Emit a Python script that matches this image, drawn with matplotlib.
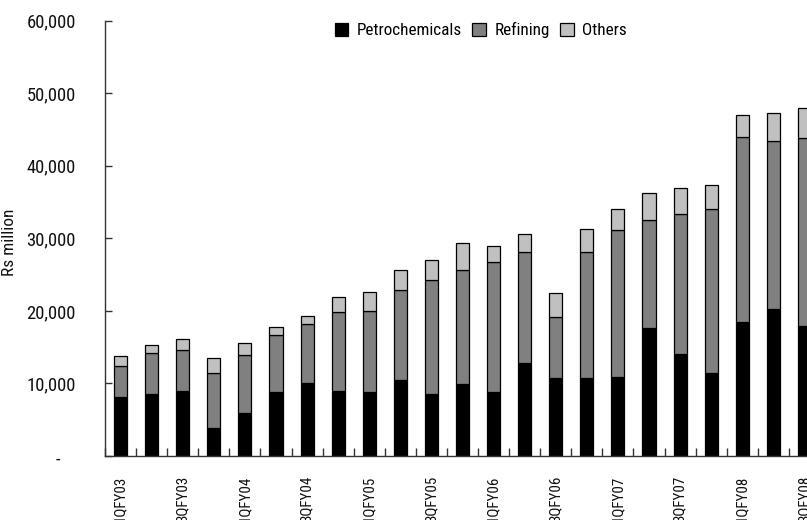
import matplotlib
matplotlib.use("Agg")
import matplotlib.pyplot as plt
import matplotlib.transforms as mtransforms
from matplotlib.ticker import FixedLocator, FuncFormatter
import numpy as np

plt.rcParams['font.family'] = ['Roboto Condensed', 'DejaVu Sans']

quarters = [
    "1QFY03", "2QFY03", "3QFY03", "4QFY03",
    "1QFY04", "2QFY04", "3QFY04", "4QFY04",
    "1QFY05", "2QFY05", "3QFY05", "4QFY05",
    "1QFY06", "2QFY06", "3QFY06", "4QFY06",
    "1QFY07", "2QFY07", "3QFY07", "4QFY07",
    "1QFY08", "2QFY08", "3QFY08",
]

# Segment revenues, Rs million
petrochemicals = [8150, 8500, 8950, 3850, 5950, 8800, 10100, 8950, 8850, 10500,
                  8550, 9900, 8800, 12800, 10700, 10700, 10950, 17700, 14100,
                  11450, 18500, 20300, 17900]
refining = [4300, 5650, 5650, 7600, 7950, 7900, 8100, 10900, 11150, 12400,
            15700, 15700, 17900, 15300, 8450, 17400, 20250, 14850, 19200,
            22650, 25500, 23150, 26000]
others = [1400, 1200, 1500, 2000, 1650, 1100, 1150, 2050, 2650, 2750,
          2700, 3800, 2200, 2450, 3250, 3250, 2850, 3650, 3700, 3250,
          3000, 3850, 4000]

series_names = ["Petrochemicals", "Refining", "Others"]
series_colors = ["#000000", "#808080", "#c0c0c0"]

W, H = 807, 520
fig = plt.figure(figsize=(W / 100, H / 100), dpi=100)
ax = fig.add_axes([105 / W, 1 - 456 / H, 715 / W, (456 - 20.7) / H])

x = np.arange(len(quarters))
bottom = np.zeros(len(quarters))
handles = []
for vals, name, col in zip([petrochemicals, refining, others], series_names, series_colors):
    b = ax.bar(x, vals, width=0.42, bottom=bottom, color=col,
               edgecolor="#000000", linewidth=0.9, label=name)
    handles.append(b)
    bottom += np.array(vals)

ax.set_xlim(-0.5, len(quarters) - 0.5)
ax.set_ylim(0, 60000)

for side in ("top", "right"):
    ax.spines[side].set_visible(False)
for side in ("left", "bottom"):
    ax.spines[side].set_color("#333333")
    ax.spines[side].set_linewidth(1.0)

# y axis
ax.yaxis.set_major_locator(FixedLocator(np.arange(0, 60001, 10000)))
ax.yaxis.set_major_formatter(FuncFormatter(lambda v, p: "-" if v == 0 else f"{int(v):,}"))
ax.tick_params(axis="y", direction="in", length=5, width=1, color="#333333",
               labelsize=13.4, pad=21, labelcolor="#111111")
fig.canvas.draw()
zero_label = ax.get_yticklabels()[0]
zero_label.set_transform(zero_label.get_transform() +
                         mtransforms.ScaledTranslation(-16 / 100, -2 / 100, fig.dpi_scale_trans))

# x axis: labels on alternate quarters, tick marks between bars
ax.set_xticks(x)
ax.set_xticklabels([q if i % 2 == 0 else "" for i, q in enumerate(quarters)],
                   rotation=90, va="top", ha="center")
ax.set_xticks(np.arange(-0.5, len(quarters) + 0.5, 1), minor=True)
ax.tick_params(axis="x", which="major", length=0, pad=14, labelsize=10.8,
               labelcolor="#111111")
ax.tick_params(axis="x", which="minor", direction="in", length=6, width=1,
               color="#333333")

ax.set_ylabel("Rs million", fontsize=12.5, color="#111111")
ax.yaxis.set_label_coords(-88 / 715, 0.49)

fig.legend(handles=handles, labels=series_names, loc="center",
           bbox_to_anchor=(481 / W, 1 - 30 / H), ncol=3, frameon=False,
           fontsize=12.3, handlelength=0.8, handleheight=0.8,
           handletextpad=0.5, columnspacing=0.6, borderaxespad=0)

fig.savefig("out.png", dpi=100)
